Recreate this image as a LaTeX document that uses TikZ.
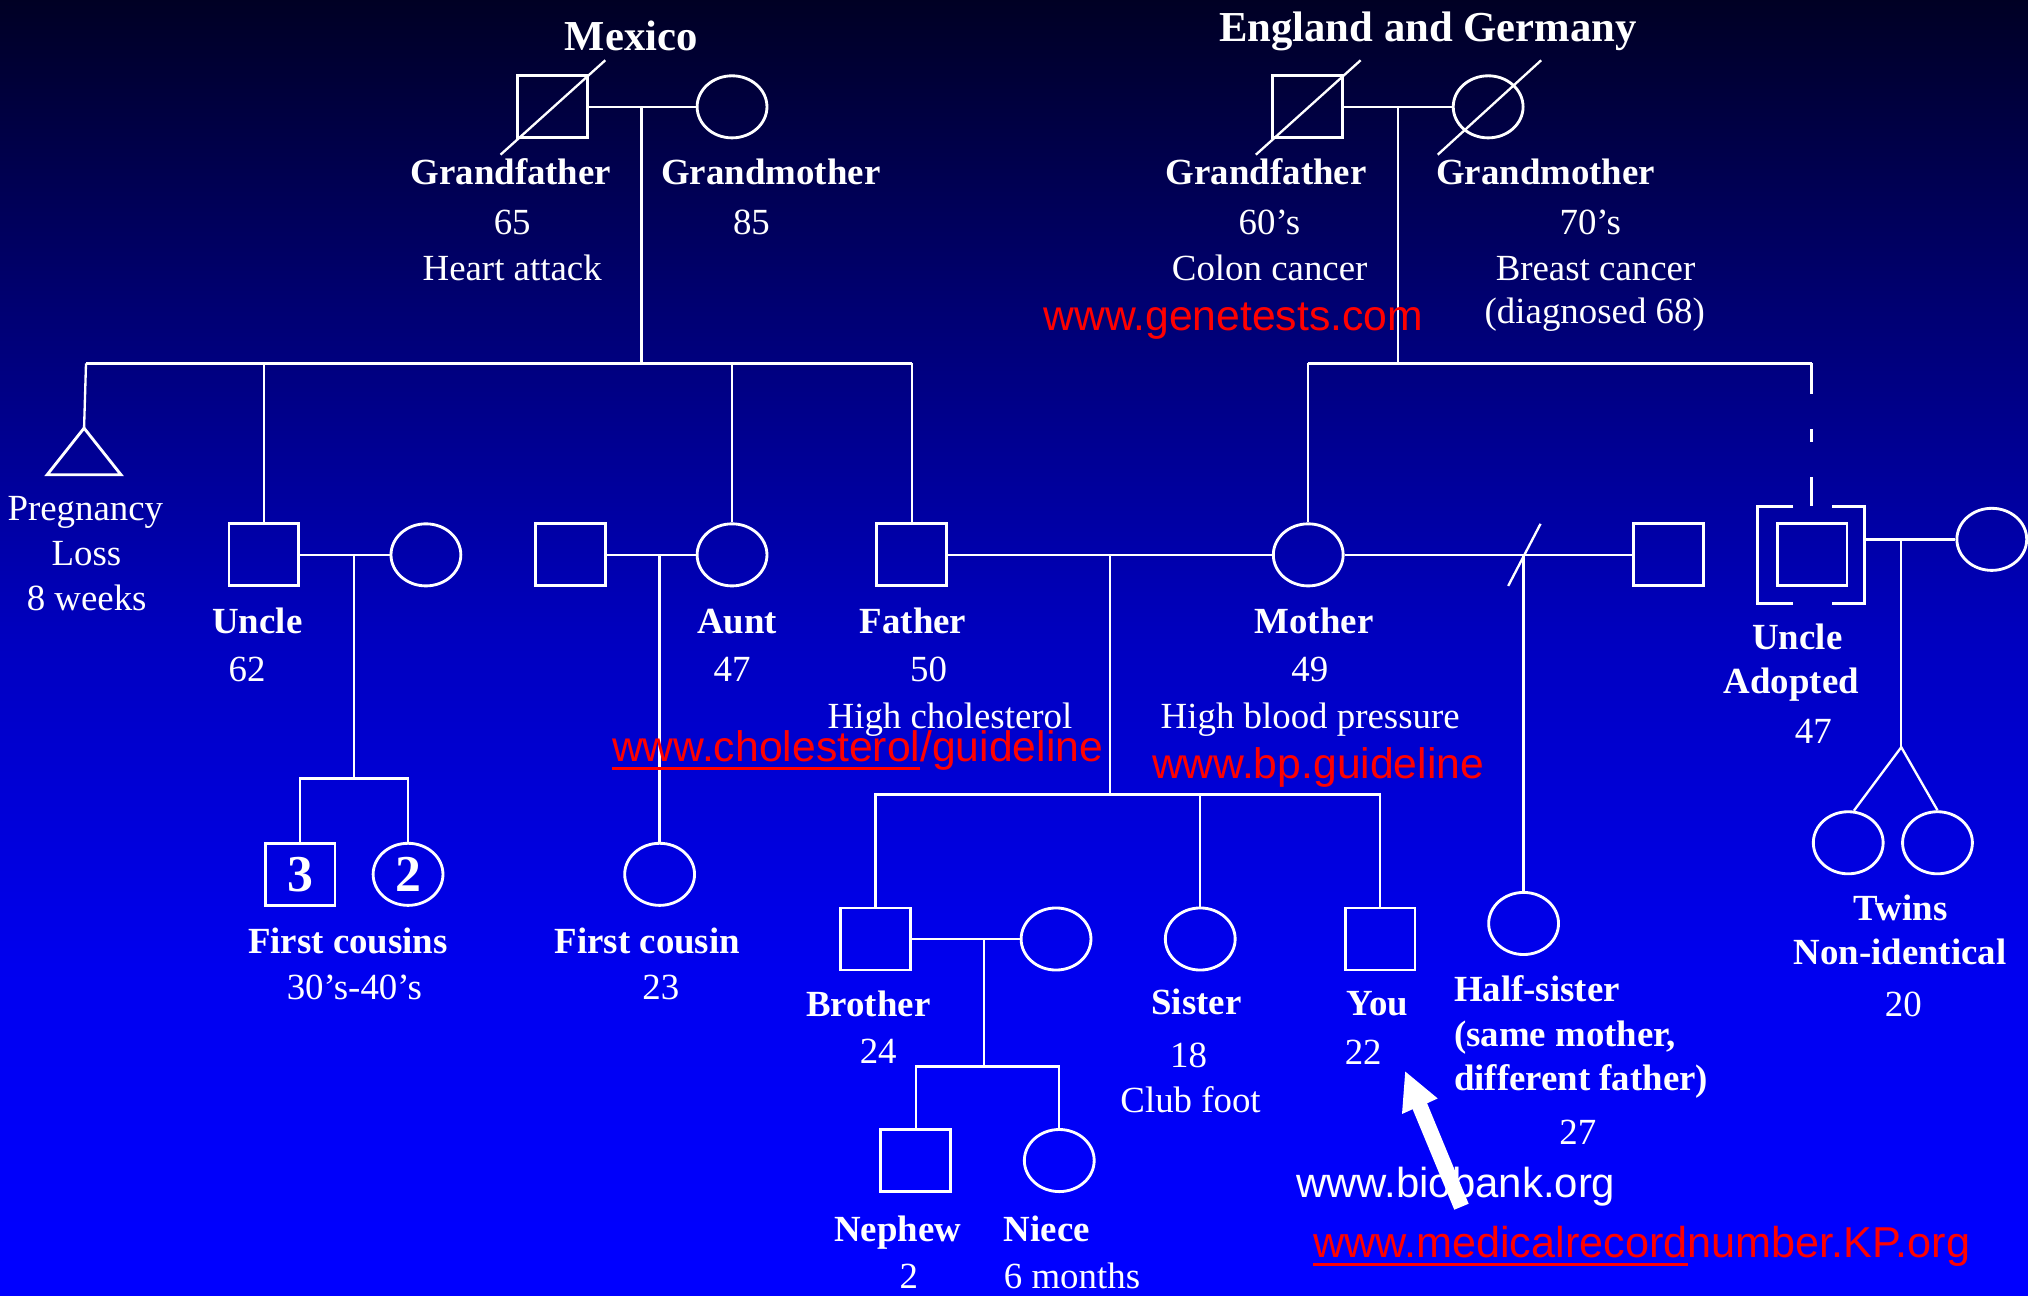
\documentclass[tikz,border=0pt]{standalone}
\usepackage{fontspec}
\setmainfont{Liberation Serif}
\newfontfamily\arialf{Liberation Sans}
\usetikzlibrary{shapes.geometric,calc}
\definecolor{bgA}{RGB}{0,0,255}
\definecolor{bgB}{RGB}{0,0,240}
\definecolor{bgC}{RGB}{0,0,192}
\definecolor{bgD}{RGB}{0,0,112}
\definecolor{bgE}{RGB}{0,0,36}
\pgfdeclareverticalshading{pedbg}{100bp}{color(0bp)=(bgA); color(26bp)=(bgA); color(37.2bp)=(bgB); color(50.3bp)=(bgC); color(63.4bp)=(bgD); color(75bp)=(bgE); color(100bp)=(bgE)}
\begin{document}
\begin{tikzpicture}[x=1pt,y=-1pt,
  sq/.style={draw=white, line width=2.2pt, rectangle, minimum width=54pt, minimum height=48pt, inner sep=0pt},
  ci/.style={draw=white, line width=2.2pt, ellipse, minimum width=54pt, minimum height=48pt, inner sep=0pt},
  ln/.style={draw=white, line width=1.8pt},
  lb/.style={text=white, font=\fontsize{28.5}{30}\selectfont\bfseries, anchor=base, inner sep=0pt},
  lt/.style={text=white, font=\fontsize{28.5}{30}\selectfont, anchor=base, inner sep=0pt},
  ttl/.style={text=white, font=\fontsize{33}{36}\selectfont\bfseries, anchor=base, inner sep=0pt},
  url/.style={text=red, font=\arialf\fontsize{33}{36}\selectfont, anchor=base west, inner sep=0pt},
  num/.style={text=white, font=\fontsize{40}{42}\selectfont\bfseries},
]
\shade[shading=pedbg] (0,0) rectangle (1568,1002);
\useasboundingbox (0,0) rectangle (1568,1002);

% ---------- Mexico grandparents ----------
\node[ttl] (tmex) at (488,39) {Mexico};
\node[sq] (mgf) at (427,82.6) {};
\node[ci] (mgm) at (566,82.6) {};
\draw[ln] ($(mgf)+(-40,37)$) -- ($(mgf)+(41,-36)$);
\draw[ln] (mgf.east) -- (mgm.west);
\coordinate (mm) at (496,82.6);
\coordinate (ms1) at (66.5,281);
\coordinate (ms2) at (705,281);
\coordinate (msm) at (496,281);
\draw[ln] (mm) -- (msm);
\draw[ln] (ms1) -- (ms2);
\node[lb] (lmgf) at (395,143) {Grandfather};
\node[lt] (lmgf2) at (396,181.5) {65};
\node[lt] (lmgf3) at (396,216.6) {Heart attack};
\node[lb] (lmgm) at (596,143) {Grandmother};
\node[lt] (lmgm2) at (581,181.5) {85};

% ---------- England grandparents ----------
\node[ttl] (teng) at (1104,32) {England and Germany};
\node[sq] (egf) at (1011,82.6) {};
\node[ci] (egm) at (1150.6,82.6) {};
\draw[ln] ($(egf)+(-40,37)$) -- ($(egf)+(41,-36)$);
\draw[ln] ($(egm)+(-39,37)$) -- ($(egm)+(41,-36)$);
\draw[ln] (egf.east) -- (egm.west);
\coordinate (em) at (1081,82.6);
\coordinate (es1) at (1011.5,281);
\coordinate (es2) at (1400.6,281);
\coordinate (esm) at (1081,281);
\draw[ln] (em) -- (esm);
\draw[ln] (es1) -- (es2);
\node[lb] (legf) at (979,143) {Grandfather};
\node[lt] (legf2) at (981.5,181.5) {60’s};
\node[lt] (legf3) at (981.7,216.6) {Colon cancer};
\node[lb] (legm) at (1195,143) {Grandmother};
\node[lt] (legm2) at (1229.6,181.5) {70’s};
\node[lt] (legm3) at (1233.6,216.6) {Breast cancer};
\node[lt] (legm4) at (1233,250) {(diagnosed 68)};
\node[url] (ugene) at (806.5,255.6) {www.genetests.com};

% ---------- Pregnancy loss ----------
\coordinate (pl) at (65,331);
\draw[ln] (ms1) -- (pl);
\draw[white, line width=2.2pt, line join=miter] (pl) -- ($(pl)+(-28.5,36)$) -- ($(pl)+(28.5,36)$) -- cycle;
\node[lt] (lpl1) at (66,402.6) {Pregnancy};
\node[lt] (lpl2) at (66.8,437) {Loss};
\node[lt] (lpl3) at (67,472) {8 weeks};

% ---------- Uncle ----------
\node[sq] (unc) at (204,429) {};
\node[ci] (uncw) at (329.3,429) {};
\draw[ln] (unc |- ms1) -- (unc.north);
\draw[ln] (unc.east) -- (uncw.west);
\coordinate (um) at (273.5,429);
\coordinate (us) at (273.5,602);
\draw[ln] (um) -- (us);
\node[sq] (cz3) at (232,676) {};
\node[ci] (cz2) at (315.5,676) {};
\node[num] at (cz3) {3};
\node[num] at (cz2) {2};
\draw[ln] (cz3.north) -- (cz3 |- us) -- (cz2 |- us) -- (cz2.north);
\node[lb] (lunc) at (199,489.5) {Uncle};
\node[lt] (lunc2) at (191,526.6) {62};
\node[lb] (lcz) at (269,737) {First cousins};
\node[lt] (lcz2) at (274,773) {30’s-40’s};

% ---------- Aunt ----------
\node[sq] (auh) at (441,429) {};
\node[ci] (aunt) at (566,429) {};
\draw[ln] (aunt |- ms1) -- (aunt.north);
\draw[ln] (auh.east) -- (aunt.west);
\node[ci] (fc) at (510,676) {};
\draw[ln] (fc |- aunt) -- (fc.north);
\node[lb] (launt) at (570,489.5) {Aunt};
\node[lt] (launt2) at (566,526.6) {47};
\node[lb] (lfc) at (500.5,737) {First cousin};
\node[lt] (lfc2) at (511,773) {23};

% ---------- Father & Mother ----------
\node[sq] (fa) at (705,429) {};
\node[ci] (mo) at (1011.5,429) {};
\draw[ln] (fa |- ms1) -- (fa.north);
\draw[ln] (mo |- es1) -- (mo.north);
\draw[ln] (fa.east) -- (mo.west);
\coordinate (fm) at (858,429);
\coordinate (fms) at (858,614.4);
\draw[ln] (fm) -- (fms);
\node[lb] (lfa) at (706,489.5) {Father};
\node[lt] (lfa2) at (718,526.6) {50};
\node[lt] (lfa3) at (734.5,563) {High cholesterol};
\node[url] (uchol) at (473,588.9) {www.cholesterol/guideline};
\draw[red, line width=2.6pt] (473,594) -- (711,594);
\node[lb] (lmo) at (1016,489.5) {Mother};
\node[lt] (lmo2) at (1012.7,526.6) {49};
\node[lt] (lmo3) at (1013,563) {High blood pressure};
\node[url] (ubp) at (890.5,601.6) {www.bp.guideline};

% ---------- Children ----------
\node[sq] (bro) at (677,726) {};
\node[ci] (sis) at (928,726) {};
\node[sq] (you) at (1067,726) {};
\draw[ln] (bro.north) -- (bro |- fms) -- (you |- fms) -- (you.north);
\draw[ln] (sis |- fms) -- (sis.north);
\node[ci] (brw) at (816.5,726) {};
\draw[ln] (bro.east) -- (brw.west);
\coordinate (bm) at (760.6,726);
\coordinate (bs) at (760.6,824.7);
\draw[ln] (bm) -- (bs);
\node[sq] (nep) at (708,897.3) {};
\node[ci] (nie) at (819,897.3) {};
\draw[ln] (nep.north) -- (nep |- bs) -- (nie |- bs) -- (nie.north);
\node[lb] (lbro) at (671.4,786) {Brother};
\node[lt] (lbro2) at (679,822) {24};
\node[lb] (lsis) at (925,784) {Sister};
\node[lt] (lsis2) at (919,825) {18};
\node[lt] (lsis3) at (920.5,860.5) {Club foot};
\node[lb] (lyou) at (1065,785.5) {You};
\node[lt] (lyou2) at (1054,823) {22};
\node[lb] (lnep) at (694,959.5) {Nephew};
\node[lt] (lnep2) at (702.7,996) {2};
\node[lb, anchor=base west] (lnie) at (776,959.5) {Niece};
\node[lt, anchor=base west] (lnie2) at (776,996) {6 months};

% ---------- Half-sister ----------
\node[sq] (hsf) at (1290,429) {};
\draw[ln] (mo.east) -- (hsf.west);
\coordinate (hsm) at (1178.6,429);
\draw[ln] ($(hsm)+(-12.5,24)$) -- ($(hsm)+(12.5,-24)$);
\node[ci] (hs) at (1178,714) {};
\draw[ln] (hs |- hsm) -- (hs.north);
\node[lb, anchor=base west] (lhs1) at (1124,774) {Half-sister};
\node[lb, anchor=base west] (lhs2) at (1124,809) {(same mother,};
\node[lb, anchor=base west] (lhs3) at (1124,843) {different father)};
\node[lt] (lhs4) at (1220,884.5) {27};

% ---------- Adopted uncle ----------
\node[sq] (uad) at (1401,429) {};
\coordinate (brTL) at (1359,391.4);
\coordinate (brBR) at (1441.6,466.4);
\draw[white, line width=2.2pt] (1386.6,391.4) -- (brTL) -- (1359,466.4) -- (1386.6,466.4);
\draw[white, line width=2.2pt] (1416.6,391.4) -- (1441.6,391.4) -- (brBR) -- (1416.6,466.4);
\draw[ln] (es2) -- (1400.6,305);
\draw[ln] (1400.6,332) -- (1400.6,342);
\draw[ln] (1400.6,369) -- (1400.6,391.4);
\node[ci] (uadw) at (1540,417) {};
\draw[ln] (brBR |- uadw) -- (uadw.west);
\coordinate (tm) at (1470,417);
\coordinate (tw) at (1470,577.7);
\draw[ln] (tm) -- (tw);
\node[ci] (tw1) at (1429,651.6) {};
\node[ci] (tw2) at (1498,651.6) {};
\draw[ln] (tw1.80) -- (tw) -- (tw2.north);
\node[lb] (luad1) at (1389.7,502) {Uncle};
\node[lb] (luad2) at (1385,536) {Adopted};
\node[lt] (luad3) at (1402,575) {47};
\node[lb] (ltw1) at (1469.6,712) {Twins};
\node[lb] (ltw2) at (1469,745.5) {Non-identical};
\node[lt] (ltw3) at (1471.6,786) {20};

% ---------- Bottom links ----------
\node[text=white, font=\arialf\fontsize{32.4}{34}\selectfont, anchor=base west, inner sep=0pt] (ubio) at (1002,926) {www.biobank.org};
\node[url, font=\arialf\fontsize{33.4}{36}\selectfont] (umed) at (1015,972.3) {www.medicalrecordnumber.KP.org};
\draw[red, line width=2.6pt] (1015,977.5) -- (1305,977.5);
\coordinate (arT) at (1086.5,828.5);
\fill[white] (arT) -- (1111.6,849.3) -- (1103.4,853) -- (1135.5,930.7) -- (1124.4,935.3) -- (1092.2,857.6) -- (1084,861.3) -- cycle;
\end{tikzpicture}
\end{document}
